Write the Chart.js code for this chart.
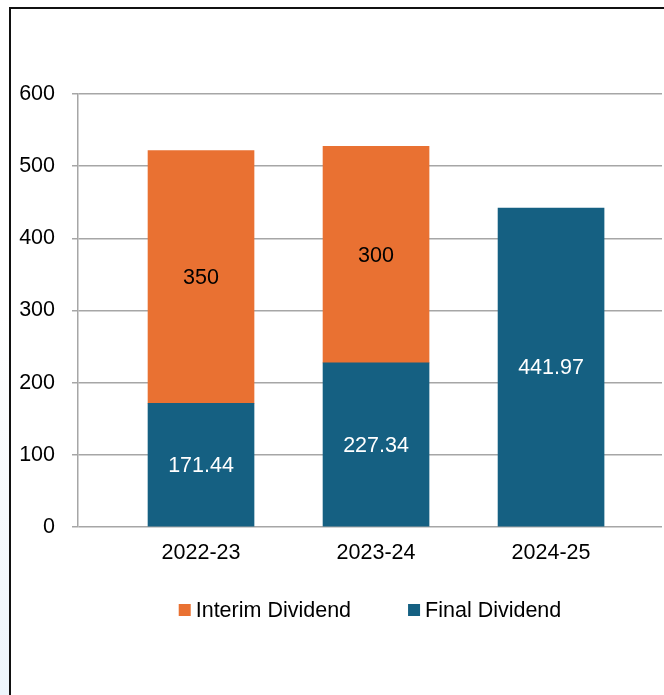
<!DOCTYPE html>
<html><head><meta charset="utf-8">
<script src="https://cdn.jsdelivr.net/npm/chart.js@4/dist/chart.umd.min.js"></script>
<style>
html,body{margin:0;padding:0;background:#fff;}
#wrap{position:relative;width:664px;height:695px;overflow:hidden;background:linear-gradient(to bottom,#ffffff 0%,#ffffff 45%,#eef5fb 100%);}
#frame{position:absolute;left:9px;top:7px;right:-10px;bottom:-10px;border-left:2px solid #111;border-top:2px solid #111;background:#fff;}
canvas{position:absolute;left:0;top:0;}
</style></head><body>
<div id="wrap"><div id="frame"></div><canvas id="c" width="664" height="695"></canvas></div>
<script>
const categories = ['2022-23', '2023-24', '2024-25'];
const interimDividend = [350, 300, null];
const finalDividend = [171.44, 227.34, 441.97];
const seriesNames = ['Interim Dividend', 'Final Dividend'];
const yTickValues = [0, 100, 200, 300, 400, 500, 600];

const ORANGE = '#E97132';
const BLUE = '#156082';
const GRID = '#a6a6a6';
const FONT = "'Liberation Sans', Arial, sans-serif";
const FS = 21.5;

Chart.defaults.font.family = FONT;
Chart.defaults.font.size = FS;
Chart.defaults.color = '#000';

const toPoints = arr => categories.map((c, i) => ({ x: i + 1, y: arr[i] })).filter(p => p.y !== null);

const labelPlugin = {
  id: 'barLabels',
  afterDatasetsDraw(chart) {
    const ctx = chart.ctx;
    ctx.save();
    ctx.font = FS + 'px ' + FONT;
    ctx.textAlign = 'center';
    ctx.textBaseline = 'middle';
    chart.data.datasets.forEach((ds, di) => {
      const meta = chart.getDatasetMeta(di);
      meta.data.forEach((el, i) => {
        const raw = ds.data[i];
        if (!raw || raw.y === null) return;
        const p = el.getProps(['x', 'y', 'base'], true);
        ctx.fillStyle = ds.labelColor;
        ctx.fillText(String(raw.y), p.x, (p.y + p.base) / 2 + 1);
      });
    });
    ctx.restore();
  }
};

const legendPlugin = {
  id: 'customLegend',
  afterDraw(chart) {
    const ctx = chart.ctx;
    const area = chart.chartArea;
    ctx.save();
    ctx.font = FS + 'px ' + FONT;
    ctx.textBaseline = 'middle';
    ctx.textAlign = 'left';
    const items = seriesNames.map(name => {
      const ds = chart.data.datasets.find(d => d.label === name);
      return { name, color: ds.backgroundColor, w: ctx.measureText(name).width };
    });
    const box = 12, gapText = 5, gapItem = 57;
    let total = 0;
    items.forEach((it, i) => { total += box + gapText + it.w + (i < items.length - 1 ? gapItem : 0); });
    let x = (area.left + area.right) / 2 - total / 2;
    const cy = area.bottom + 83;
    items.forEach(it => {
      ctx.fillStyle = it.color;
      ctx.fillRect(x, cy - box / 2, box, box);
      x += box + gapText;
      ctx.fillStyle = '#000';
      ctx.fillText(it.name, x, cy + 1);
      x += it.w + gapItem;
    });
    ctx.restore();
  }
};

new Chart(document.getElementById('c'), {
  type: 'bar',
  data: {
    datasets: [
      { label: seriesNames[1], data: toPoints(finalDividend), backgroundColor: BLUE, labelColor: '#ffffff' },
      { label: seriesNames[0], data: toPoints(interimDividend), backgroundColor: ORANGE, labelColor: '#000000' }
    ]
  },
  options: {
    responsive: false,
    animation: false,
    devicePixelRatio: 1,
    barThickness: 106,
    layout: { padding: { left: 18, top: 94, right: 2, bottom: 128 } },
    plugins: { legend: { display: false }, tooltip: { enabled: false } },
    scales: {
      x: {
        type: 'linear',
        stacked: true,
        min: 0.2971,
        max: 3.634,
        offset: false,
        grid: { display: false, drawTicks: false },
        border: { display: false },
        afterBuildTicks(scale) { scale.ticks = categories.map((c, i) => ({ value: i + 1 })); },
        afterFit(scale) { scale.height = 40; },
        ticks: {
          autoSkip: false,
          maxRotation: 0,
          padding: 13,
          color: '#000',
          font: { size: FS },
          callback: v => categories[v - 1] || ''
        }
      },
      y: {
        stacked: true,
        min: 0,
        max: 600,
        afterBuildTicks(scale) { scale.ticks = yTickValues.map(v => ({ value: v })); },
        afterFit(scale) { scale.width = 60; },
        grid: { color: GRID, lineWidth: 1.5, tickLength: 6, drawTicks: true },
        border: { display: true, color: GRID, width: 1.5 },
        ticks: { padding: 17, color: '#000', font: { size: FS } }
      }
    }
  },
  plugins: [labelPlugin, legendPlugin]
});
</script>
</body></html>
